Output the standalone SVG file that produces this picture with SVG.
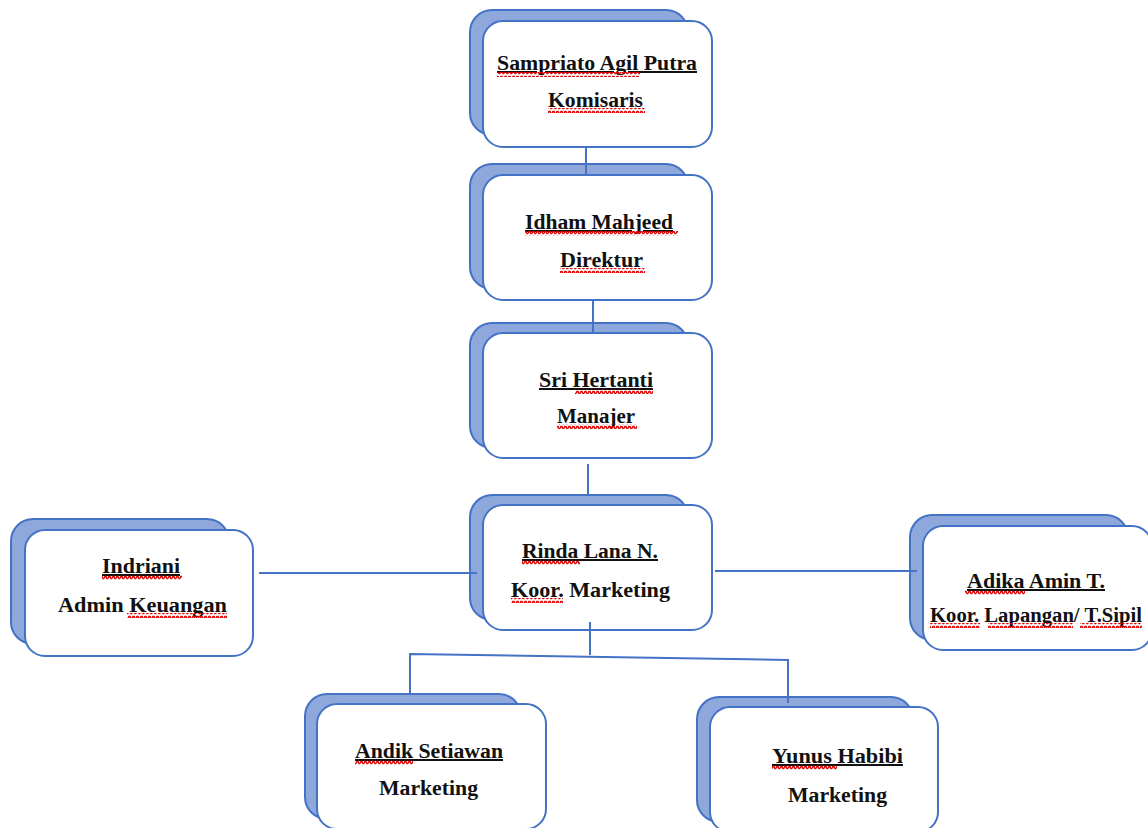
<svg xmlns="http://www.w3.org/2000/svg" width="1148" height="828" viewBox="0 0 1148 828">
<defs>
<style>
.sh{fill:#8FA8DC;stroke:#4472C4;stroke-width:2}
.fr{fill:#FFFFFF;stroke:#4472C4;stroke-width:2}
.t{font-family:"Liberation Serif","Times New Roman",serif;font-weight:bold;font-size:20px;fill:#111111}
.u{text-decoration:underline}
.c{fill:none;stroke:#4472C4;stroke-width:2}
.w{fill:url(#wave)}
</style>
<pattern id="wave" patternUnits="userSpaceOnUse" x="0" y="0" width="4" height="5">
<path d="M0,3.5 L1,1.5 L2,1.5 L3,3.5 L4,3.5" fill="none" stroke="#E00000" stroke-width="1.5"/>
</pattern>
</defs>
<rect width="1148" height="828" fill="#FFFFFF"/>

<g id="node-sampriato">
<rect class="sh" x="470" y="10" width="218" height="125" rx="22"/>
<rect class="fr" x="483" y="21" width="229" height="126" rx="20"/>
<text class="t u" x="497" y="70" textLength="200" lengthAdjust="spacingAndGlyphs">Sampriato Agil Putra</text>
<rect class="w" x="497" y="72" width="143" height="5"/>
<text class="t" x="548" y="107" textLength="95" lengthAdjust="spacingAndGlyphs">Komisaris</text>
<rect class="w" x="548" y="108" width="97" height="5"/>
</g>

<g id="node-idham">
<rect class="sh" x="470" y="164" width="218" height="125" rx="22"/>
<rect class="fr" x="483" y="175" width="229" height="125" rx="20"/>
<text class="t u" x="525" y="229" textLength="148" lengthAdjust="spacingAndGlyphs">Idham Mahjeed</text>
<rect class="w" x="525" y="231" width="153" height="5"/>
<text class="t" x="560" y="267" textLength="83" lengthAdjust="spacingAndGlyphs">Direktur</text>
<rect class="w" x="560" y="268" width="85" height="5"/>
</g>

<g id="node-sri">
<rect class="sh" x="470" y="323" width="218" height="125" rx="22"/>
<rect class="fr" x="483" y="333" width="229" height="125" rx="20"/>
<text class="t u" x="539" y="387" textLength="114" lengthAdjust="spacingAndGlyphs">Sri Hertanti</text>
<rect class="w" x="575" y="389" width="78" height="5"/>
<text class="t" x="557" y="423" textLength="78" lengthAdjust="spacingAndGlyphs">Manajer</text>
<rect class="w" x="557" y="424" width="80" height="5"/>
</g>

<g id="node-rinda">
<rect class="sh" x="470" y="495" width="218" height="125" rx="22"/>
<rect class="fr" x="483" y="505" width="229" height="125" rx="20"/>
<text class="t u" x="522" y="558" textLength="136" lengthAdjust="spacingAndGlyphs">Rinda Lana N.</text>
<rect class="w" x="522" y="560" width="58" height="5"/>
<text class="t" x="511" y="597" textLength="159" lengthAdjust="spacingAndGlyphs">Koor. Marketing</text>
<rect class="w" x="511" y="598" width="52" height="5"/>
</g>

<g id="node-indriani">
<rect class="sh" x="11" y="519" width="218" height="125" rx="22"/>
<rect class="fr" x="25" y="530" width="228" height="126" rx="20"/>
<text class="t u" x="102" y="573" textLength="78" lengthAdjust="spacingAndGlyphs">Indriani</text>
<rect class="w" x="102" y="575" width="80" height="5"/>
<text class="t" x="58" y="612" textLength="169" lengthAdjust="spacingAndGlyphs">Admin Keuangan</text>
<rect class="w" x="127" y="613" width="100" height="5"/>
</g>

<g id="node-adika">
<rect class="sh" x="910" y="515" width="218" height="125" rx="22"/>
<rect class="fr" x="923" y="526" width="229" height="124" rx="20"/>
<text class="t u" x="967" y="588" textLength="138" lengthAdjust="spacingAndGlyphs">Adika Amin T.</text>
<rect class="w" x="965" y="590" width="60" height="5"/>
<text class="t" x="930" y="622" textLength="212" lengthAdjust="spacingAndGlyphs">Koor. Lapangan/ T.Sipil</text>
<rect class="w" x="930" y="623" width="50" height="5"/>
<rect class="w" x="988" y="623" width="85" height="5"/>
<rect class="w" x="1080" y="623" width="62" height="5"/>
</g>

<g id="node-andik">
<rect class="sh" x="305" y="694" width="216" height="125" rx="22"/>
<rect class="fr" x="317" y="704" width="229" height="125" rx="20"/>
<text class="t u" x="355" y="758" textLength="148" lengthAdjust="spacingAndGlyphs">Andik Setiawan</text>
<rect class="w" x="355" y="760" width="58" height="5"/>
<text class="t" x="379" y="795" textLength="99" lengthAdjust="spacingAndGlyphs">Marketing</text>
</g>

<g id="node-yunus">
<rect class="sh" x="697" y="697" width="216" height="125" rx="22"/>
<rect class="fr" x="710" y="707" width="228" height="125" rx="20"/>
<text class="t u" x="772" y="763" textLength="131" lengthAdjust="spacingAndGlyphs">Yunus Habibi</text>
<rect class="w" x="772" y="765" width="65" height="5"/>
<text class="t" x="788" y="802" textLength="99" lengthAdjust="spacingAndGlyphs">Marketing</text>
</g>

<g id="connectors">
<line class="c" x1="586" y1="147" x2="586" y2="174"/>
<line class="c" x1="593" y1="300" x2="593" y2="333"/>
<line class="c" x1="588" y1="464" x2="588" y2="495"/>
<line class="c" x1="590" y1="622" x2="590" y2="655"/>
<polyline class="c" points="410,693 410,654 788,660 788,703"/>
<line class="c" x1="259" y1="573" x2="477" y2="573"/>
<line class="c" x1="715" y1="571" x2="917" y2="571"/>
</g>
</svg>
